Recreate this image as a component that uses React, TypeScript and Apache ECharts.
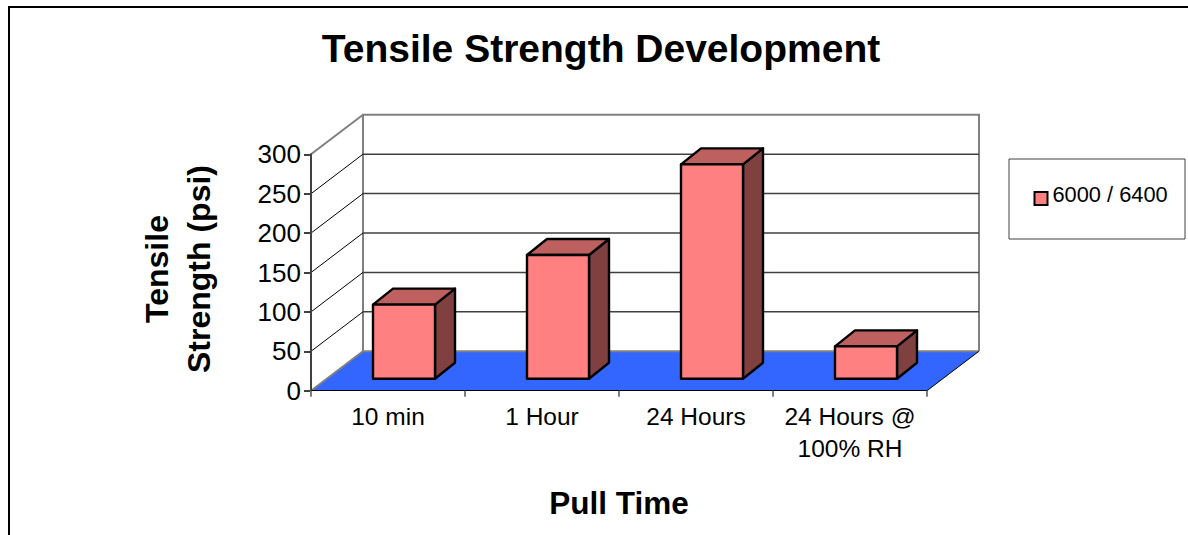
import React, { useEffect, useRef } from "react";
import * as echarts from "echarts";

const categories = ["10 min", "1 Hour", "24 Hours", "24 Hours @\n100% RH"];
const seriesName = "6000 / 6400";
const values = [94, 157, 272, 41];
const yTicks = [0, 50, 100, 150, 200, 250, 300];

const FONT = '"Liberation Sans", Arial, sans-serif';
const DX = 52;
const DY = -39.5;
const BAR_RATIO = 0.4026;
const BAR_SHIFT_X = 16;
const BAR_LIFT = 12;
const BAR_DX = 20;
const BAR_DY = -16;

export default function App() {
  const ref = useRef<HTMLDivElement>(null);
  useEffect(() => {
    document.body.style.margin = "0";
    document.body.style.overflow = "hidden";
    const chart = echarts.init(ref.current!, null, { renderer: "svg" });

    const renderWall = (params: any, api: any) => {
      const tick = api.value(0);
      const [x0, y0] = api.coord([0, tick]);
      const cw = api.size([1, 0])[0];
      const xL = x0 - cw / 2;
      const xR = xL + cw * categories.length;
      const children: any[] = [];
      if (tick === 0) {
        children.push({
          type: "polygon",
          shape: { points: [[xL, y0], [xL + DX, y0 + DY], [xR + DX, y0 + DY], [xR, y0]] },
          style: { fill: "#3366FF", stroke: null },
        });
        children.push({
          type: "polyline",
          shape: { points: [[xL, y0], [xL + DX, y0 + DY], [xR + DX, y0 + DY]] },
          style: { fill: null, stroke: "#808080", lineWidth: 2 },
        });
        children.push({
          type: "line",
          shape: { x1: xR, y1: y0, x2: xR + DX, y2: y0 + DY },
          style: { stroke: "#000", lineWidth: 1 },
        });
        const [, yTop] = api.coord([0, yTicks[yTicks.length - 1]]);
        children.push({
          type: "polyline",
          shape: { points: [[xL + DX, y0 + DY], [xL + DX, yTop + DY], [xR + DX, yTop + DY], [xR + DX, y0 + DY]] },
          style: { fill: null, stroke: "#808080", lineWidth: 2 },
        });
      } else if (tick === yTicks[yTicks.length - 1]) {
        children.push({
          type: "line",
          shape: { x1: xL, y1: y0, x2: xL + DX, y2: y0 + DY },
          style: { stroke: "#808080", lineWidth: 2 },
        });
      } else {
        children.push({
          type: "line",
          shape: { x1: xL, y1: y0, x2: xL + DX, y2: y0 + DY },
          style: { stroke: "#000", lineWidth: 1 },
        });
        children.push({
          type: "line",
          shape: { x1: xL + DX, y1: y0 + DY, x2: xR + DX, y2: y0 + DY },
          style: { stroke: "#404040", lineWidth: 1.5 },
        });
      }
      return { type: "group", children };
    };

    const renderBar = (params: any, api: any) => {
      const c = api.value(0);
      const v = api.value(1);
      const [cx, yTop0] = api.coord([c, v]);
      const [, yBase0] = api.coord([c, 0]);
      const cw = api.size([1, 0])[0];
      const w = cw * BAR_RATIO;
      const l = cx - w / 2 + BAR_SHIFT_X;
      const r = l + w;
      const t = yTop0 - BAR_LIFT;
      const b = yBase0 - BAR_LIFT;
      const edge = { stroke: "#000", lineWidth: 2.4, lineJoin: "round" };
      return {
        type: "group",
        children: [
          {
            type: "polygon",
            shape: { points: [[r, t], [r + BAR_DX, t + BAR_DY], [r + BAR_DX, b + BAR_DY], [r, b]] },
            style: { fill: "#804040", ...edge },
          },
          {
            type: "polygon",
            shape: { points: [[l, t], [l + BAR_DX, t + BAR_DY], [r + BAR_DX, t + BAR_DY], [r, t]] },
            style: { fill: "#BF6060", ...edge },
          },
          {
            type: "polygon",
            shape: { points: [[l, t], [r, t], [r, b], [l, b]] },
            style: { fill: "#FF8080", ...edge },
          },
        ],
      };
    };

    chart.setOption({
      animation: false,
      backgroundColor: "#fff",
      textStyle: { fontFamily: FONT, color: "#000" },
      title: {
        text: "Tensile Strength Development",
        left: 596,
        top: 24,
        textAlign: "center",
        textStyle: { fontFamily: FONT, fontWeight: "bold", fontSize: 39, color: "#000" },
      },
      grid: { left: 311, right: 261, top: 154.3, bottom: 144.3, containLabel: false },
      legend: {
        data: [seriesName],
        left: 1033.5,
        top: 183.5,
        padding: 0,
        itemWidth: 13,
        itemHeight: 13,
        itemGap: 0,
        icon: "rect",
        selectedMode: false,
        itemStyle: { color: "#FF8080", borderColor: "#000", borderWidth: 2 },
        formatter: (name: string) => `{t|${name}}`,
        textStyle: {
          fontFamily: FONT,
          fontSize: 21.8,
          color: "#000",
          rich: { t: { fontFamily: FONT, fontSize: 21.8, color: "#000", padding: [0, 0, 8, 0] } },
        },
      },
      xAxis: {
        type: "category",
        data: categories,
        boundaryGap: true,
        name: "Pull Time",
        nameLocation: "middle",
        nameGap: 96,
        nameTextStyle: { fontFamily: FONT, fontWeight: "bold", fontSize: 31.5, color: "#000" },
        z: 4,
        axisLine: { show: true, lineStyle: { color: "#000", width: 1 } },
        axisTick: { show: true, length: 6, alignWithLabel: false, lineStyle: { color: "#808080", width: 2 } },
        axisLabel: { fontFamily: FONT, fontSize: 24.5, color: "#000", margin: 10, lineHeight: 32, interval: 0 },
        splitLine: { show: false },
      },
      yAxis: {
        type: "value",
        min: 0,
        max: 300,
        interval: 50,
        name: "Tensile\nStrength (psi)",
        nameLocation: "middle",
        nameRotate: 90,
        nameGap: 91,
        nameTextStyle: { fontFamily: FONT, fontWeight: "bold", fontSize: 32, color: "#000", lineHeight: 42, padding: [0, 0, 0, 7] },
        z: 4,
        axisLine: { show: true, lineStyle: { color: "#404040", width: 2 } },
        axisTick: { show: true, length: 7, lineStyle: { color: "#404040", width: 2 } },
        axisLabel: { fontFamily: FONT, fontSize: 26, color: "#000", margin: 10 },
        splitLine: { show: false },
      },
      graphic: [
        {
          type: "polyline",
          z: 0,
          shape: { points: [[9, 535], [9, 7], [1188, 7]] },
          style: { fill: null, stroke: "#000", lineWidth: 2 },
        },
        {
          type: "rect",
          z: 0,
          shape: { x: 1009, y: 159, width: 176, height: 80 },
          style: { fill: "#fff", stroke: "#404040", lineWidth: 1 },
        },
      ],
      series: [
        {
          name: "wall",
          type: "custom",
          z: 1,
          silent: true,
          coordinateSystem: "cartesian2d",
          renderItem: renderWall,
          encode: { x: 1, y: 0 },
          data: yTicks.map((t) => [t, 0]),
        },
        {
          name: seriesName,
          type: "custom",
          z: 5,
          coordinateSystem: "cartesian2d",
          renderItem: renderBar,
          itemStyle: { color: "#FF8080" },
          encode: { x: 0, y: 1 },
          data: values.map((v, i) => [i, v]),
        },
      ],
    });
    return () => chart.dispose();
  }, []);
  return <div ref={ref} style={{ width: 1188, height: 535 }} />;
}
